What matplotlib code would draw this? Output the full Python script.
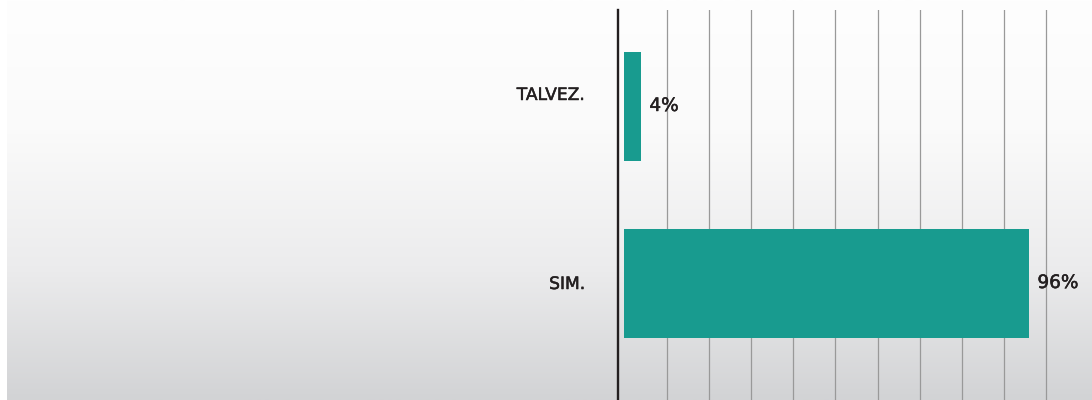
import matplotlib
matplotlib.use('Agg')
import matplotlib.pyplot as plt
import matplotlib.transforms as mtransforms
import matplotlib.patheffects as pe
from matplotlib.colors import LinearSegmentedColormap
import numpy as np

plt.rc('font', family='DejaVu Sans')

categories = ['SIM.', 'TALVEZ.']
values = [96, 4]
value_labels = ['96%', '4%']
# baseline shift of each category label, pixels above bar centre
label_shift = [-5.5, 6.5]

bar_color = '#189b8f'
text_color = '#231f20'

W, H = 1092, 400
fig = plt.figure(figsize=(W / 100, H / 100), dpi=100)
fig.patch.set_facecolor('white')

# grey gradient panel behind the chart
bg = fig.add_axes([7 / W, 0, (W - 7) / W, 1])
cmap = LinearSegmentedColormap.from_list('bg', ['#fefefe', '#fafafa', '#ececed', '#d2d3d5'], N=256)
grad = np.linspace(0, 1, 256).reshape(-1, 1)
bg.imshow(grad, cmap=cmap, aspect='auto', extent=[0, 1, 1, 0], interpolation='bilinear')
bg.set_axis_off()

ax = fig.add_axes([618 / W, 0, (W - 618) / W, 390 / H])
ax.patch.set_alpha(0)

pos = np.arange(len(categories))
ax.barh(pos, values, height=0.616, color=bar_color, zorder=3)

ax.set_xlim(-1.54, 110.84)
ax.set_ylim(-0.658, 1.545)
ax.set_xticks(range(10, 101, 10))
ax.set_yticks([])
ax.grid(axis='x', color='#999999', linewidth=0.9, zorder=1)
ax.tick_params(axis='x', length=0, labelbottom=False)
for s in ['top', 'right', 'bottom']:
    ax.spines[s].set_visible(False)
ax.spines['left'].set_color(text_color)
ax.spines['left'].set_linewidth(1.7)
ax.spines['left'].set_zorder(4)

# slightly heavier strokes for the labels
heavy = [pe.withStroke(linewidth=0.35, foreground=text_color)]

trans = mtransforms.blended_transform_factory(ax.transAxes, ax.transData)
for p, name, dy in zip(pos, categories, label_shift):
    ax.annotate(name, xy=(0, p), xycoords=trans, xytext=(-33, dy),
                textcoords='offset pixels', ha='right', va='baseline',
                fontsize=12.3, color=text_color, path_effects=heavy)

for p, v, lab in zip(pos, values, value_labels):
    ax.annotate(lab, xy=(v, p), xytext=(8, -4.5), textcoords='offset pixels',
                ha='left', va='baseline', fontsize=13.3, color=text_color,
                path_effects=heavy)

fig.savefig('out.png', dpi=100)
